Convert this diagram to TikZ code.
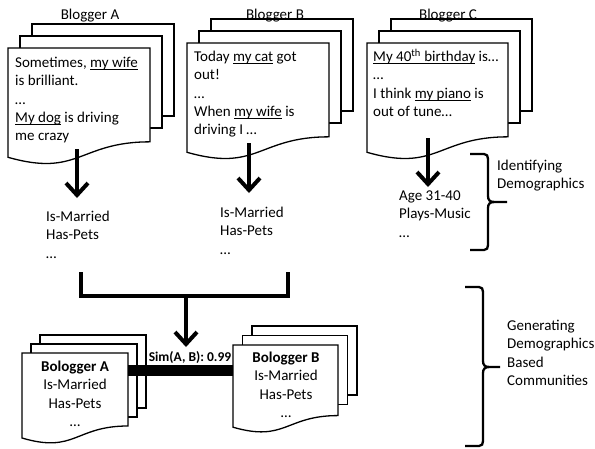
\documentclass[tikz,border=0pt]{standalone}
\usepackage{fontspec}
\setmainfont{Carlito}
\usetikzlibrary{arrows.meta}
\newcommand\fsz{\fontsize{15}{18.2}\selectfont}
\newcommand\undl[1]{\setbox0=\hbox{#1}\rlap{\rule[-2.6pt]{\wd0}{1.2pt}}\box0\relax}
\newcommand\multidocshape[6]{%
 \filldraw[page] ({#1+2*#5},{#2-2*#5}) rectangle ({#1+#3+2*#5},{#2-2*#5+#6});
 \filldraw[page] ({#1+#5},{#2-#5}) rectangle ({#1+#3+#5},{#2-#5+#6});
 \filldraw[page] (#1,#2) -- ({#1+#3},#2) -- ({#1+#3},{#2+0.802*#4})
   .. controls ({#1+0.5*#3},{#2+0.802*#4}) and ({#1+0.5*#3},{#2+1.107*#4}) .. (#1,{#2+0.934*#4}) -- cycle;}
\tikzset{
 page/.style={draw=black, fill=white, line width=1.3pt, line join=miter},
 txt/.style={inner sep=0pt, anchor=north west, align=left, font=\fsz},
 ctxt/.style={inner sep=0pt, anchor=north, align=center, font=\fsz},
 ttl/.style={inner sep=0pt, anchor=base, font=\fsz},
 bigarrow/.style={line width=4pt, -{Straight Barb[length=12pt,width=22pt]}},
 thickline/.style={line width=4pt, line join=miter},
 bracestyle/.style={line width=2.3pt},
}
\begin{document}
\begin{tikzpicture}[x=1pt,y=-1pt]
\useasboundingbox (0,0) rectangle (595,448);
% ---------- top documents
\multidocshape{8}{48}{142}{117}{12}{92}
\multidocshape{187}{43}{142}{117}{12}{92}
\multidocshape{367}{43}{141}{117}{12}{92}
\node[ttl] (ha) at (90,19) {Blogger A};
\node[ttl] (hb) at (275,19) {Blogger B};
\node[ttl] (hc) at (448,19) {Blogger C};
\node[txt] (ta) at (15,{67.5-12.74}) {\strut Sometimes, \undl{my wife}\\\strut is brilliant.\\\strut …\\\strut\undl{My dog} is driving\\\strut me crazy};
\node[txt] (tb) at (194,{61.5-12.74}) {\strut Today \undl{my cat} got\\\strut out!\\\strut …\\\strut When \undl{my wife} is\\\strut driving I …};
\node[txt] (tc) at (373,{61.5-12.74}) {\strut\undl{My 40\textsuperscript{th} birthday} is…\\\strut …\\\strut I think \undl{my piano} is\\\strut out of tune…};
% ---------- arrows to demographics
\coordinate (a1) at (77,149); \coordinate (a2) at (77,198);
\coordinate (b1) at (249,143); \coordinate (b2) at (249,193);
\coordinate (c1) at (428,138); \coordinate (c2) at (428,187);
\draw[bigarrow] (a1) -- (a2);
\draw[bigarrow] (b1) -- (b2);
\draw[bigarrow] (c1) -- (c2);
\node[txt] (da) at (46,{221.5-12.74}) {\strut Is-Married\\\strut Has-Pets\\\strut …};
\node[txt] (db) at (220,{217.5-12.74}) {\strut Is-Married\\\strut Has-Pets\\\strut …};
\node[txt] (dc) at (399,{200.5-12.74}) {\strut Age 31-40\\\strut Plays-Music\\\strut …};
% ---------- joining bracket
\coordinate (j1) at (81,272); \coordinate (j2) at (288,272);
\coordinate (jm) at (186,296); \coordinate (jt) at (186,347);
\draw[thickline] (j1) |- (jm) -| (j2);
\draw[bigarrow] (jm) -- (jt);
% ---------- bottom documents
\multidocshape{22}{353}{106}{91}{9}{73}
\multidocshape{233}{345}{105}{88}{9.5}{69}
\node[ctxt] (pa) at (75,{371.5-12.74}) {\strut\textbf{Bologger A}\\\strut Is-Married\\\strut Has-Pets\\\strut …};
\node[ctxt] (pb) at (286,{362.5-12.74}) {\strut\textbf{Bologger B}\\\strut Is-Married\\\strut Has-Pets\\\strut …};
\coordinate (s1) at (128,370.5); \coordinate (s2) at (233,370.5);
\draw[line width=11pt] (s1) -- (s2);
\node[inner sep=0pt, anchor=base, font=\fontsize{13.5}{16}\selectfont\bfseries] (sim) at (190,361) {Sim(A, B): 0.99};
% ---------- braces
\draw[bracestyle] (470,154) -- (484,154) .. controls (487,154) and (488,156) .. (488,159)
  -- (488,196) .. controls (488,200) and (490,202) .. (494,202) -- (507,202);
\draw[bracestyle] (494,202) .. controls (490,202) and (488,204) .. (488,208)
  -- (488,245) .. controls (488,248) and (487,250) .. (484,250) -- (470,250);
\node[txt] (lab1) at (497,{170-12.74}) {\strut Identifying\\\strut Demographics};
\draw[bracestyle] (465,287) -- (479,287) .. controls (482,287) and (483,289) .. (483,292)
  -- (483,361) .. controls (483,365) and (485,367) .. (489,367) -- (500,367);
\draw[bracestyle] (489,367) .. controls (485,367) and (483,369) .. (483,373)
  -- (483,441) .. controls (483,444) and (482,446) .. (479,446) -- (465,446);
\node[txt] (lab2) at (507,{330.5-12.74}) {\strut Generating\\\strut Demographics\\\strut Based\\\strut Communities};
\end{tikzpicture}
\end{document}
